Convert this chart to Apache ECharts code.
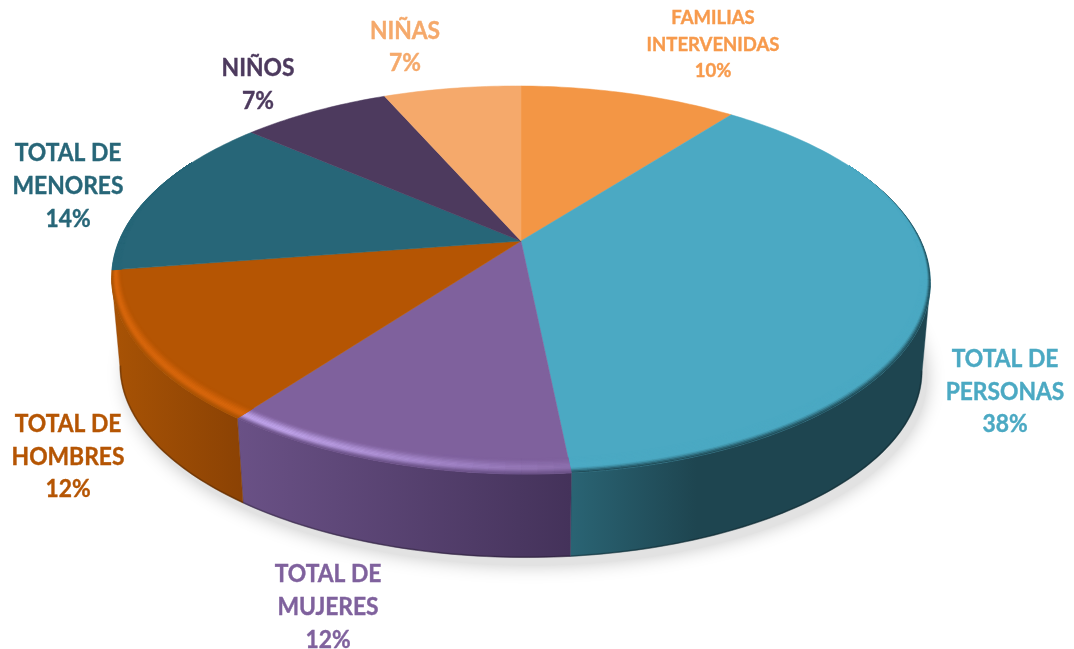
<!DOCTYPE html>
<html><head><meta charset="utf-8">
<style>html,body{margin:0;padding:0;background:#fff}#c{width:1074px;height:649px}</style>
<script src="https://cdn.jsdelivr.net/npm/echarts@6/dist/echarts.min.js"></script>
</head><body><div id="c"></div>
<script>
// ---- data
const categories = ['FAMILIAS\nINTERVENIDAS','TOTAL DE\nPERSONAS','TOTAL DE\nMUJERES','TOTAL DE\nHOMBRES','TOTAL DE\nMENORES','NIÑOS','NIÑAS'];
const values = [10.4, 38.0, 11.7, 12.3, 13.85, 7.15, 6.6];

// ---- styles
const topColors  = ['#F39645','#4BA9C3','#7F619D','#B55503','#276678','#4D3A5E','#F5A96B'];
const wallLeft   = ['#F39645','#2A6474','#6A5186','#A85305','#276678','#4D3A5E','#F5A96B'];
const wallRight  = ['#F39645','#1E4550','#44325A','#8B4204','#276678','#4D3A5E','#F5A96B'];
const rimLight   = ['#F39645','#4FB0CC','#BFA3EA','#D8660C','#276678','#4D3A5E','#F5A96B'];
const rimEdge    = ['#F39645','#1F4A56','#6A5186','#A85305','#276678','#4D3A5E','#F5A96B'];
const labelColors= ['#F79A4C','#4BA9C3','#7F619D','#B55503','#276678','#4D3A5E','#F5A96B'];
const labelCenter= [[713,45],[1005,392],[328,607],[68,457],[68,186],[258,85],[405,47]];
const labelSize  = [18.5,24,24,24,24,24,24];
const labelLine  = [26.5,32.5,33,32.5,33,33,32];
const labelScaleX= [1,0.95,0.95,0.95,0.95,0.95,0.95];

// ---- perspective disc
const K = 0.201, TILT = 0.006;
const TOP = {cx:521, cy:241, rx:401, ry:186.2};
const BOT = {cx:521, cy:330, rx:393, ry:181.8};
function P(lv, th, r){
  const x = r*Math.sin(th), y = -r*Math.cos(th), w = 1-K*y;
  const X = lv.rx*x/w;
  return [lv.cx+X, lv.cy+lv.ry*y/w+TILT*X];
}
const total = values.reduce((a,b)=>a+b,0);
function angles(i){
  let s=0; for(let j=0;j<i;j++) s+=values[j];
  return [s/total*2*Math.PI,(s+values[i])/total*2*Math.PI];
}
function arc(lv,a,b,r){
  const n=Math.max(2,Math.ceil((b-a)/(Math.PI/180))), o=[];
  for(let i=0;i<=n;i++) o.push(P(lv,a+(b-a)*i/n,r));
  return o;
}
function hex(c){return [1,3,5].map(i=>parseInt(c.substr(i,2),16));}
function mix(a,b,t){const A=hex(a),B=hex(b);return '#'+A.map((v,i)=>Math.round(v+(B[i]-v)*t).toString(16).padStart(2,'0')).join('');}
function ease(t){return t*t*(3-2*t);}
const clamp=(v,a,b)=>Math.min(b,Math.max(a,v));
// the side of the disc is visible between its two silhouette tangents
const WALL_FROM=Math.acos(-K), WALL_TO=2*Math.PI-WALL_FROM;

function renderShadow(){
  const pts=arc(BOT,0,2*Math.PI,1).map(p=>[p[0]+5,p[1]+8]);
  return {type:'polygon',shape:{points:pts},style:{fill:'#e2e2e2',shadowBlur:18,shadowColor:'rgba(0,0,0,0.22)'}};
}
function renderWall(params,api){
  const i=api.value(0),[a0,b0]=angles(i);
  const a=Math.max(a0,WALL_FROM), b=Math.min(b0,WALL_TO);
  if(b<=a) return null;
  const t=arc(TOP,a,b,1), d=arc(BOT,a,b,1).reverse();
  const persons=i===1;
  return {type:'group',children:[
    {type:'polygon',shape:{points:t.concat(d)},style:{
      fill:{type:'linear',x:0,y:0,x2:1,y2:0,colorStops:[
        {offset:0,color:wallLeft[i]},{offset:persons?0.35:1,color:wallRight[i]},{offset:1,color:wallRight[i]}]},
      stroke:wallRight[i],lineWidth:0.4}},
    {type:'polyline',shape:{points:arc(BOT,a,b,0.9985)},style:{fill:null,stroke:'rgba(0,0,0,0.22)',lineWidth:1.6}}
  ]};
}
function renderTop(params,api){
  const i=api.value(0),[a,b]=angles(i);
  const kids=[{type:'polygon',shape:{points:[[TOP.cx,TOP.cy]].concat(arc(TOP,a,b,1))},
    style:{fill:topColors[i],stroke:topColors[i],lineWidth:0.5}}];
  // rim bevel: thin bands following the disc edge, thicker toward the viewer
  const B=12, step=Math.PI/90, n=Math.max(1,Math.ceil((b-a)/step));
  const th=f=>clamp((-Math.cos(f)+0.45)/1.45,0,1)*0.055;
  for(let s=0;s<n;s++){
    const t0=a+(b-a)*s/n, t1=a+(b-a)*(s+1)/n, tm=(t0+t1)/2;
    if(th(t0)<=0.0005 && th(t1)<=0.0005) continue;
    const light=clamp((0.25-Math.sin(tm))/0.75,0,1);
    const peak=mix(topColors[i],rimLight[i],light);
    for(let q=0;q<B;q++){
      const u0=q/B,u1=(q+1)/B,um=(u0+u1)/2; // u=0 outer edge, u=1 inner
      const c=um<0.4?mix(rimEdge[i],peak,ease(um/0.4)):mix(peak,topColors[i],ease((um-0.4)/0.6));
      const poly=[P(TOP,t0,1-u0*th(t0)),P(TOP,t1,1-u0*th(t1)),P(TOP,t1,1-u1*th(t1)),P(TOP,t0,1-u1*th(t0))];
      kids.push({type:'polygon',shape:{points:poly},style:{fill:c,stroke:c,lineWidth:0.5}});
    }
  }
  return {type:'group',children:kids};
}
function renderLabel(params,api){
  const i=api.value(0), c=labelCenter[i];
  const pct=Math.round(values[i]/total*100)+'%';
  return {type:'text',x:c[0],y:c[1],scaleX:labelScaleX[i],style:{
    text:categories[i]+'\n'+pct,x:0,y:0,align:'center',verticalAlign:'middle',
    font:'bold '+labelSize[i]+'px Lato',lineHeight:labelLine[i],fill:labelColors[i],
    stroke:labelColors[i],lineWidth:0.4}};
}
const idx=values.map((v,i)=>[i]);
const base={type:'custom',coordinateSystem:'none',silent:true,animation:false};
const chart=echarts.init(document.getElementById('c'),null,{renderer:'canvas'});
chart.setOption({
  backgroundColor:'#fff',animation:false,
  series:[
    Object.assign({},base,{name:'sombra',data:[[0]],renderItem:renderShadow}),
    Object.assign({},base,{name:'paredes',data:idx,renderItem:renderWall}),
    Object.assign({},base,{name:'sectores',data:idx,renderItem:renderTop}),
    Object.assign({},base,{name:'etiquetas',data:idx,renderItem:renderLabel})
  ]
});
</script></body></html>
